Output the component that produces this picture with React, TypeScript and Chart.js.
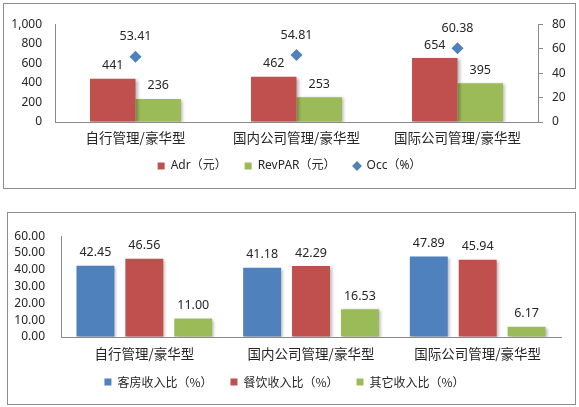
import React, { useEffect, useRef } from "react";
import { Chart, registerables } from "chart.js";

Chart.register(...registerables);

// ---------- data ----------
const categories = ["自行管理/豪华型", "国内公司管理/豪华型", "国际公司管理/豪华型"];

const adrLabel = "Adr（元）";
const revparLabel = "RevPAR（元）";
const occLabel = "Occ（%）";
const adrValues = [441, 462, 654];
const revparValues = [236, 253, 395];
const occValues = [53.41, 54.81, 60.38];

const roomLabel = "客房收入比（%）";
const fbLabel = "餐饮收入比（%）";
const otherLabel = "其它收入比（%）";
const roomShare = [42.45, 41.18, 47.89];
const fbShare = [46.56, 42.29, 45.94];
const otherShare = [11.0, 16.53, 6.17];

// ---------- styles ----------
const RED = "#C0504D";
const GREEN = "#9BBB59";
const BLUE = "#4F81BD";
const AXIS = "#8a8a8a";
const TEXT = "#262626";
const LATIN = "'Noto Sans', 'Noto Sans CJK SC', sans-serif";
const CJK = "'Noto Sans CJK SC', 'Noto Sans', sans-serif";

const shadowPlugin = {
  id: "barShadow",
  beforeDatasetDraw(chart: any, args: any) {
    const ds = chart.data.datasets[args.index];
    const ctx = chart.ctx;
    ctx.save();
    if (ds.type !== "line") {
      ctx.shadowColor = "rgba(0,0,0,0.28)";
      ctx.shadowBlur = 3;
      ctx.shadowOffsetX = 2;
      ctx.shadowOffsetY = 1;
    }
  },
  afterDatasetDraw(chart: any) {
    chart.ctx.restore();
  },
};

function makeLegendShift(shift: number) {
  return {
    id: "legendShift",
    afterLayout(chart: any) {
      const l = chart.legend;
      if (l) {
        l.top -= shift;
        l.bottom -= shift;
      }
    },
  };
}

function makeLabelPlugin(format: (v: number, dsIndex: number) => string, offset: (dsIndex: number) => number) {
  return {
    id: "valueLabels",
    afterDatasetsDraw(chart: any) {
      const ctx = chart.ctx;
      ctx.save();
      ctx.font = `12.5px ${LATIN}`;
      ctx.fillStyle = TEXT;
      ctx.textAlign = "center";
      ctx.textBaseline = "middle";
      chart.data.datasets.forEach((ds: any, i: number) => {
        const meta = chart.getDatasetMeta(i);
        meta.data.forEach((el: any, j: number) => {
          const v = ds.data[j] as number;
          ctx.fillText(format(v, i), el.x, el.y - offset(i));
        });
      });
      ctx.restore();
    },
  };
}

export default function App() {
  const topRef = useRef<HTMLCanvasElement>(null);
  const botRef = useRef<HTMLCanvasElement>(null);

  useEffect(() => {
    const top = new Chart(topRef.current as HTMLCanvasElement, {
      type: "bar",
      data: {
        labels: categories,
        datasets: [
          {
            type: "bar",
            label: adrLabel,
            data: adrValues,
            backgroundColor: RED,
            borderWidth: 0,
            yAxisID: "y",
            pointStyle: "rect",
          } as any,
          {
            type: "bar",
            label: revparLabel,
            data: revparValues,
            backgroundColor: GREEN,
            borderWidth: 0,
            yAxisID: "y",
            pointStyle: "rect",
          } as any,
          {
            type: "line",
            label: occLabel,
            data: occValues,
            showLine: false,
            backgroundColor: BLUE,
            borderColor: BLUE,
            pointStyle: "rectRot",
            pointRadius: 6,
            pointBorderWidth: 0,
            yAxisID: "y1",
          } as any,
        ],
      },
      options: {
        animation: false,
        responsive: false,
        maintainAspectRatio: false,
        layout: { padding: { top: 13, bottom: 0, left: 0, right: 0 } },
        datasets: { bar: { categoryPercentage: 0.565, barPercentage: 1 } },
        plugins: {
          tooltip: { enabled: false },
          legend: {
            position: "bottom",
            labels: {
              usePointStyle: true,
              boxWidth: 7,
              boxHeight: 7,
              padding: 18,
              color: TEXT,
              font: { family: LATIN, size: 12 },
            },
          },
        },
        scales: {
          x: {
            grid: { display: true, drawOnChartArea: false, drawTicks: false },
            border: { display: true, color: AXIS, width: 1 },
            ticks: { padding: 8, color: TEXT, font: { family: CJK, size: 13.5 } },
            afterFit: (s: any) => {
              s.height = 26;
            },
          },
          y: {
            position: "left",
            min: 0,
            max: 1000,
            ticks: {
              stepSize: 200,
              autoSkip: false,
              padding: 13,
              color: TEXT,
              font: { family: LATIN, size: 12 },
              callback: (v: any) => Number(v).toLocaleString("en-US"),
            },
            grid: { display: true, drawOnChartArea: false, drawTicks: false },
            border: { display: true, color: AXIS, width: 1 },
            afterFit: (s: any) => {
              s.width = 51;
            },
          },
          y1: {
            position: "right",
            min: 0,
            max: 80,
            ticks: { stepSize: 20, autoSkip: false, padding: 9, color: TEXT, font: { family: LATIN, size: 12 } },
            grid: { display: true, drawOnChartArea: false, drawTicks: true, tickLength: 5, color: AXIS },
            border: { display: true, color: AXIS, width: 1 },
            afterFit: (s: any) => {
              s.width = 37;
            },
          },
        },
      } as any,
      plugins: [
        shadowPlugin,
        makeLegendShift(6),
        makeLabelPlugin(
          (v, i) => (i === 2 ? v.toFixed(2) : String(v)),
          (i) => (i === 2 ? 20 : 13)
        ),
      ],
    });

    const bottom = new Chart(botRef.current as HTMLCanvasElement, {
      type: "bar",
      data: {
        labels: categories,
        datasets: [
          { label: roomLabel, data: roomShare, backgroundColor: BLUE, borderWidth: 0, pointStyle: "rect" } as any,
          { label: fbLabel, data: fbShare, backgroundColor: RED, borderWidth: 0, pointStyle: "rect" } as any,
          { label: otherLabel, data: otherShare, backgroundColor: GREEN, borderWidth: 0, pointStyle: "rect" } as any,
        ],
      },
      options: {
        animation: false,
        responsive: false,
        maintainAspectRatio: false,
        layout: { padding: { top: 13, bottom: 1, left: 0, right: 14 } },
        datasets: { bar: { categoryPercentage: 0.88, barPercentage: 0.776 } },
        plugins: {
          tooltip: { enabled: false },
          legend: {
            position: "bottom",
            labels: {
              usePointStyle: true,
              boxWidth: 7,
              boxHeight: 7,
              padding: 18,
              color: TEXT,
              font: { family: CJK, size: 12 },
            },
          },
        },
        scales: {
          x: {
            grid: { display: true, drawOnChartArea: false, drawTicks: false },
            border: { display: true, color: AXIS, width: 1 },
            ticks: { padding: 9, color: TEXT, font: { family: CJK, size: 13.5 } },
            afterFit: (s: any) => {
              s.height = 26;
            },
          },
          y: {
            min: 0,
            max: 60,
            ticks: {
              stepSize: 10,
              autoSkip: false,
              padding: 16,
              color: TEXT,
              font: { family: LATIN, size: 12 },
              callback: (v: any) => Number(v).toFixed(2),
            },
            grid: { display: true, drawOnChartArea: false, drawTicks: false },
            border: { display: true, color: AXIS, width: 1 },
            afterFit: (s: any) => {
              s.width = 53;
            },
          },
        },
      } as any,
      plugins: [shadowPlugin, makeLegendShift(5), makeLabelPlugin((v) => v.toFixed(2), () => 13)],
    });

    return () => {
      top.destroy();
      bottom.destroy();
    };
  }, []);

  return (
    <div style={{ position: "fixed", left: 0, top: 0, width: 579, height: 407, background: "#fff", overflow: "hidden" }}>
      <div
        style={{
          position: "absolute",
          left: 3,
          top: 3,
          width: 573,
          height: 186,
          border: "1px solid #8c8c8c",
          boxSizing: "border-box",
        }}
      />
      <canvas
        ref={topRef}
        width={571}
        height={184}
        style={{ position: "absolute", left: 4, top: 4, width: 571, height: 184 }}
      />
      <div
        style={{
          position: "absolute",
          left: 7,
          top: 212,
          width: 569,
          height: 193,
          border: "1px solid #8c8c8c",
          boxSizing: "border-box",
        }}
      />
      <canvas
        ref={botRef}
        width={567}
        height={191}
        style={{ position: "absolute", left: 8, top: 213, width: 567, height: 191 }}
      />
    </div>
  );
}
